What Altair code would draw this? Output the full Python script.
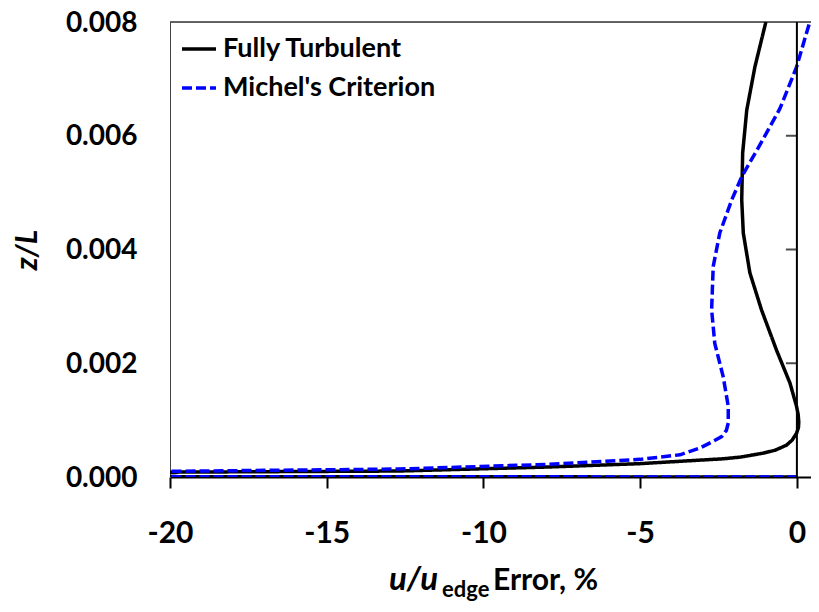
import altair as alt
import pandas as pd

# Fully Turbulent curve (error %, z/L), ordered from the wall upward
ft_x = [0, -60, -20, -12.7, -7.9, -5.0, -3.3, -2.35, -1.8, -1.07, -0.7, -0.33, -0.15,
        -0.01, 0.05, 0.06, 0.04, -0.01, -0.22, -0.65, -1.13, -1.50, -1.71, -1.76,
        -1.73, -1.60, -1.34, -0.99]
ft_z = [0, 0.00002, 0.000085, 0.000105, 0.000176, 0.000235, 0.00029, 0.00032, 0.00035,
        0.00042, 0.00047, 0.00056, 0.00065, 0.00077, 0.00087, 0.00097, 0.0011, 0.00124,
        0.00165, 0.00223, 0.00294, 0.00359, 0.00429, 0.00487, 0.0057, 0.00645, 0.00721,
        0.008]

# Michel's Criterion curve
mc_x = [0, -60, -20, -12.7, -7.9, -5.0, -3.73, -3.09, -2.7, -2.40, -2.25, -2.19, -2.19,
        -2.35, -2.62, -2.72, -2.67, -2.46, -2.08, -1.76, -1.18, -0.54, -0.01, 0.41]
mc_z = [0, 0.00002, 0.0001, 0.00014, 0.000223, 0.00031, 0.00039, 0.00051, 0.00062,
        0.00071, 0.00082, 0.00095, 0.00124, 0.00176, 0.00235, 0.00294, 0.0037, 0.00429,
        0.00487, 0.00528, 0.00584, 0.00648, 0.00721, 0.008]

series = ["Fully Turbulent", "Michel's Criterion"]
x_ticks = [-20, -15, -10, -5, 0]
y_ticks = [0.000, 0.002, 0.004, 0.006, 0.008]
inner_ticks = [0.002, 0.004, 0.006]

rows = []
for i, (x, z) in enumerate(zip(ft_x, ft_z)):
    rows.append({"x": x, "z": z, "series": series[0], "idx": i})
for i, (x, z) in enumerate(zip(mc_x, mc_z)):
    rows.append({"x": x, "z": z, "series": series[1], "idx": i})
df = pd.DataFrame(rows)

FONT = "Lato"
XMAX = 0.45
xscale = alt.Scale(domain=[-20, XMAX], nice=False, zero=False)
yscale = alt.Scale(domain=[0, 0.008], nice=False, zero=False)

legend_kw = dict(title=None, orient="none", legendX=10, legendY=8,
                 symbolType="stroke", symbolSize=1156, symbolStrokeWidth=3.5,
                 labelFont=FONT, labelFontSize=27, labelFontWeight="bold",
                 labelColor="black", rowPadding=7, labelOffset=5, padding=0,
                 labelLimit=0)

lines = alt.Chart(df).mark_line(clip=True, strokeWidth=3.5).encode(
    x=alt.X("x:Q", scale=xscale,
            axis=alt.Axis(values=x_ticks, title=None, grid=False, domain=True,
                          domainColor="black", domainWidth=2, ticks=True, tickSize=11,
                          tickWidth=2, tickColor="black", labelFont=FONT, labelFontSize=30,
                          labelFontWeight="bold", labelColor="black", labelPadding=45,
                          labelBaseline="middle", labelFlush=False, labelOverlap=False,
                          labelExpr="datum.value < 0 ? '-' + abs(datum.value) : '' + datum.value")),
    y=alt.Y("z:Q", scale=yscale,
            axis=alt.Axis(values=y_ticks, format=".3f", title="z/L", grid=False,
                          domain=True, domainColor="#444", domainWidth=1, ticks=False,
                          tickSize=0, labelFont=FONT, labelFontSize=28,
                          labelFontWeight="bold", labelColor="black", labelPadding=33,
                          labelAlign="right", labelBaseline="middle", labelFlush=False,
                          labelOffset=1, labelOverlap=False, titleFont=FONT,
                          titleFontSize=30, titleFontWeight="bold",
                          titleFontStyle="italic", titleColor="black", titleAngle=270,
                          titleAlign="center", titleBaseline="middle", titleX=-143,
                          titleY=227.5)),
    color=alt.Color("series:N", scale=alt.Scale(domain=series, range=["black", "#0000ff"]),
                    legend=alt.Legend(**legend_kw)),
    strokeDash=alt.StrokeDash("series:N",
                              scale=alt.Scale(domain=series, range=[[1, 0], [10, 4]]),
                              legend=alt.Legend(**legend_kw)),
    order=alt.Order("idx:Q"),
)

vline = alt.Chart(pd.DataFrame({"x": [0], "z0": [0.0], "z1": [0.008]})).mark_rule(
    color="black", strokeWidth=2).encode(x="x:Q", y="z0:Q", y2="z1:Q")

ticks = alt.Chart(pd.DataFrame({"z": inner_ticks})).mark_tick(
    orient="horizontal", size=11, thickness=2, color="black", xOffset=-5.5
).encode(x=alt.datum(0), y="z:Q")

top_border = alt.Chart(pd.DataFrame({"a": [-20], "b": [XMAX], "z": [0.008]})).mark_rule(
    color="#333", strokeWidth=1.5).encode(x="a:Q", x2="b:Q", y="z:Q")

t1 = alt.Chart(pd.DataFrame({"t": ["u/u"]})).mark_text(
    font=FONT, fontSize=33, fontWeight="bold", fontStyle="italic", align="left",
    baseline="alphabetic", color="black").encode(
    text="t:N", x=alt.value(219), y=alt.value(568))
t2 = alt.Chart(pd.DataFrame({"t": ["edge"]})).mark_text(
    font=FONT, fontSize=22, fontWeight="bold", align="left",
    baseline="alphabetic", color="black").encode(
    text="t:N", x=alt.value(272), y=alt.value(575))
t3 = alt.Chart(pd.DataFrame({"t": ["Error, %"]})).mark_text(
    font=FONT, fontSize=30, fontWeight="bold", align="left",
    baseline="alphabetic", color="black").encode(
    text="t:N", x=alt.value(323), y=alt.value(568))

chart = alt.layer(top_border, lines, vline, ticks, t1, t2, t3).properties(
    width=641, height=455,
    autosize=alt.AutoSizeParams(type="none"),
    padding={"left": 162, "top": 14, "right": 0, "bottom": 126},
).configure_view(stroke=None).configure(background="white")

chart.save("out.html", embed_options={"renderer": "svg", "actions": False})
